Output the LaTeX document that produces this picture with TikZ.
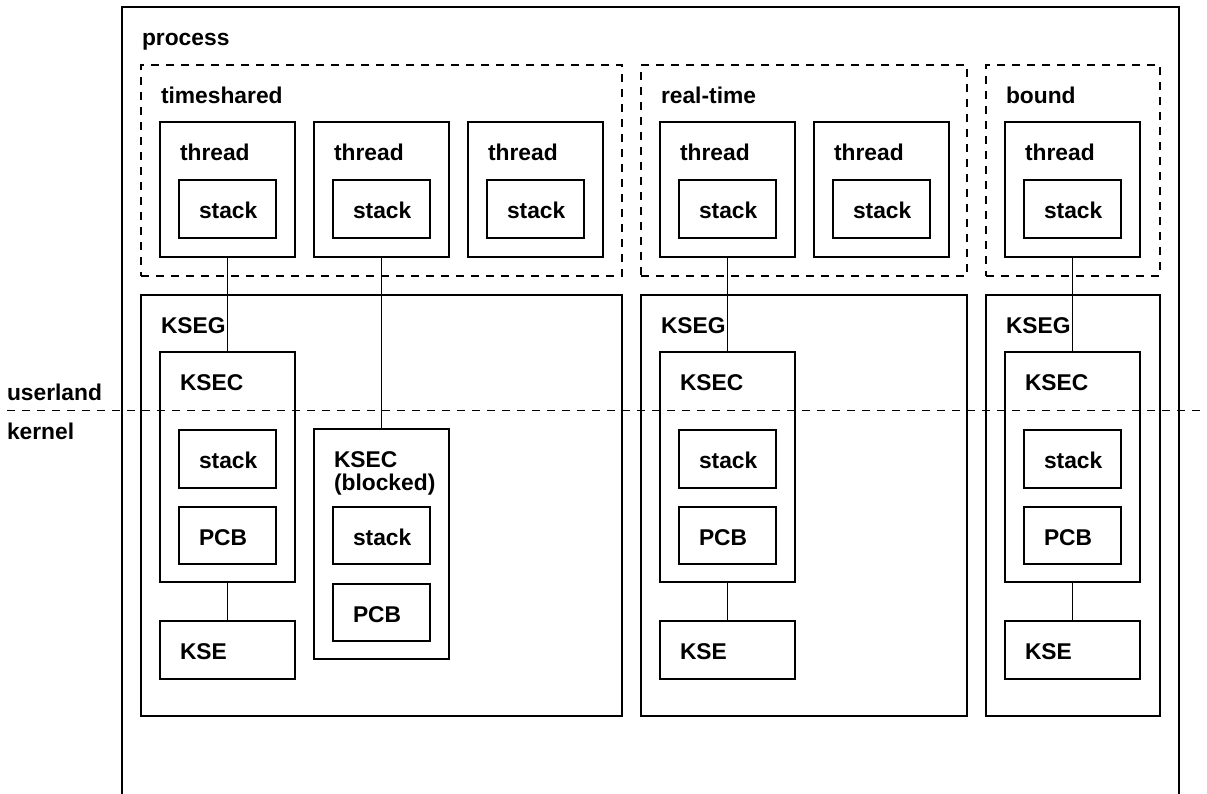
\documentclass[tikz,border=0pt]{standalone}
\usepackage{fontspec}
\setmainfont{Liberation Sans}
\tikzset{
  x=1pt, y=1pt,
  box/.style={draw, line width=2.2pt, anchor=north west, inner sep=0pt, outer sep=0pt},
  dbox/.style={box, line width=1.9pt, dash pattern=on 8pt off 7pt},
  lbl/.style={anchor=base west, inner sep=0pt, outer sep=0pt, font=\fontsize{22.8}{23}\selectfont\bfseries},
  conn/.style={draw, line width=1.8pt},
}
\newcommand{\bx}[7]{%
  \node[#7, minimum width=#4, minimum height=#5] (#1) at (#2,-#3) {};
  \node[lbl] (#1-l) at ([shift={(20,-38)}]#1.north west) {#6};
}
\begin{document}
\begin{tikzpicture}
\path[use as bounding box, clip] (0,0) rectangle (1207,-793);
\fill[white] (0,0) rectangle (1207,-793);
% process (open at bottom)
\bx{process}{122}{7}{1057}{900}{process}{box}
% groups
\bx{ts}{141}{65}{481}{211}{timeshared}{dbox}
\bx{rt}{641}{65}{326}{211}{real-time}{dbox}
\bx{bd}{986}{65}{174}{211}{bound}{dbox}
% threads
\bx{th1}{160}{122}{135}{135}{thread}{box}
\bx{th2}{314}{122}{135}{135}{thread}{box}
\bx{th3}{468}{122}{135}{135}{thread}{box}
\bx{th4}{660}{122}{135}{135}{thread}{box}
\bx{th5}{814}{122}{135}{135}{thread}{box}
\bx{th6}{1005}{122}{135}{135}{thread}{box}
\bx{st1}{179}{180}{97}{58}{stack}{box}
\bx{st2}{333}{180}{97}{58}{stack}{box}
\bx{st3}{487}{180}{97}{58}{stack}{box}
\bx{st4}{679}{180}{97}{58}{stack}{box}
\bx{st5}{833}{180}{97}{58}{stack}{box}
\bx{st6}{1024}{180}{97}{58}{stack}{box}
% KSEGs
\bx{kg1}{141}{295}{481}{421}{KSEG}{box}
\bx{kg2}{641}{295}{326}{421}{KSEG}{box}
\bx{kg3}{986}{295}{174}{421}{KSEG}{box}
% KSECs
\bx{kc1}{160}{352}{135}{230}{KSEC}{box}
\bx{kc2}{660}{352}{135}{230}{KSEC}{box}
\bx{kc3}{1005}{352}{135}{230}{KSEC}{box}
\bx{ks1}{179}{430}{97}{58}{stack}{box}
\bx{ks2}{679}{430}{97}{58}{stack}{box}
\bx{ks3}{1024}{430}{97}{58}{stack}{box}
\bx{kp1}{179}{507}{97}{57}{PCB}{box}
\bx{kp2}{679}{507}{97}{57}{PCB}{box}
\bx{kp3}{1024}{507}{97}{57}{PCB}{box}
% blocked KSEC
\bx{kb}{314}{429}{135}{230}{KSEC}{box}
\node[lbl] (kb-l2) at ([yshift=-23]kb-l.base west) {(blocked)};
\bx{kbs}{333}{507}{97}{57}{stack}{box}
\bx{kbp}{333}{584}{97}{57}{PCB}{box}
% KSEs
\bx{ke1}{160}{621}{135}{58}{KSE}{box}
\bx{ke2}{660}{621}{135}{58}{KSE}{box}
\bx{ke3}{1005}{621}{135}{58}{KSE}{box}
% connectors
\draw[conn] (th1.south) -- (kc1.north);
\draw[conn] (th2.south) -- (kb.north);
\draw[conn] (th4.south) -- (kc2.north);
\draw[conn] (th6.south) -- (kc3.north);
\draw[conn] (kc1.south) -- (ke1.north);
\draw[conn] (kc2.south) -- (ke2.north);
\draw[conn] (kc3.south) -- (ke3.north);
% userland / kernel
\coordinate (ul) at (7,-410.5);
\coordinate (ur) at (1207,-410.5);
\draw[line width=1.8pt, dash pattern=on 8pt off 7pt] (ul) -- (ur);
\node[lbl] (userland) at (7,-400) {userland};
\node[lbl] (kernel) at (7,-439) {kernel};
\end{tikzpicture}
\end{document}
